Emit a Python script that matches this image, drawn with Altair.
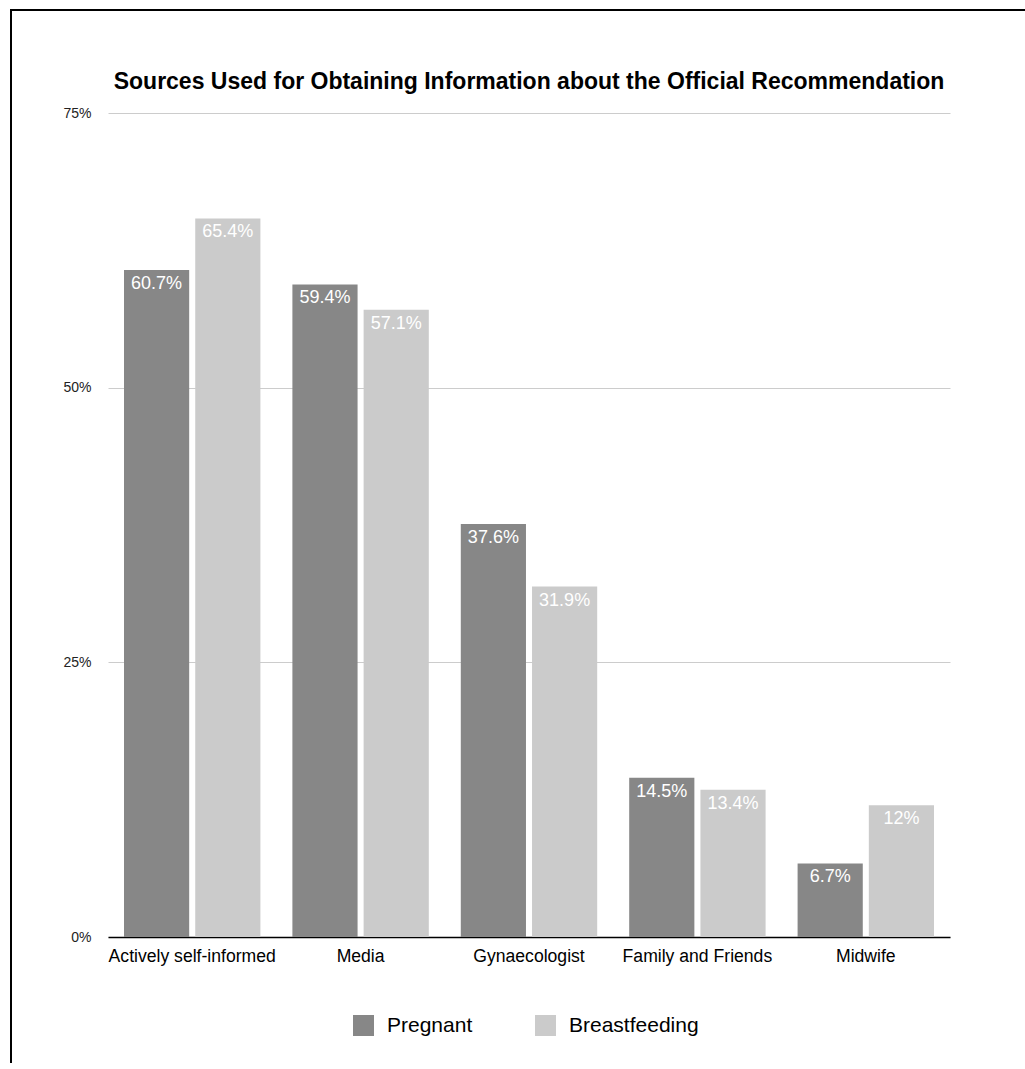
import altair as alt
import pandas as pd

categories = ["Actively self-informed", "Media", "Gynaecologist", "Family and Friends", "Midwife"]
groups = ["Pregnant", "Breastfeeding"]
pregnant = [60.7, 59.4, 37.6, 14.5, 6.7]
breastfeeding = [65.4, 57.1, 31.9, 13.4, 12.0]
colors = ["#878787", "#cbcbcb"]
y_ticks = [0, 25, 50, 75]
title_text = "Sources Used for Obtaining Information about the Official Recommendation"

rows = []
for c, p, b in zip(categories, pregnant, breastfeeding):
    rows.append({"source": c, "group": "Pregnant", "value": p})
    rows.append({"source": c, "group": "Breastfeeding", "value": b})
df = pd.DataFrame(rows)

FONT = "Liberation Sans"
W, H = 842, 824

base = alt.Chart(df).transform_calculate(
    label="format(datum.value, '.1~f') + '%'"
).encode(
    x=alt.X(
        "source:N",
        sort=categories,
        scale=alt.Scale(paddingInner=0.19, paddingOuter=0.095),
        axis=alt.Axis(
            title=None, labelAngle=0, labelFontSize=17.6, labelColor="#000",
            labelPadding=10, ticks=False, domainColor="#000", domainWidth=1.5,
            grid=False, labelFont=FONT,
        ),
    ),
    xOffset=alt.XOffset("group:N", sort=groups, scale=alt.Scale(paddingInner=0.085)),
    y=alt.Y(
        "value:Q",
        scale=alt.Scale(domain=[0, 75]),
        axis=alt.Axis(
            values=y_ticks, title=None, labelExpr="datum.value + '%'",
            labelFontSize=14, labelFont=FONT, labelColor="#222", labelPadding=17,
            ticks=False, domain=False, grid=True, gridColor="#cccccc", gridWidth=1,
        ),
    ),
)

bars = base.mark_bar().encode(
    color=alt.Color(
        "group:N",
        sort=groups,
        scale=alt.Scale(domain=groups, range=colors),
        legend=alt.Legend(
            title=None, orient="none", legendX=245, legendY=902,
            direction="horizontal", symbolType="square", symbolSize=441,
            symbolStrokeWidth=0, labelFontSize=21, labelFont=FONT,
            labelColor="#000", labelOffset=13, columnPadding=62, padding=0,
        ),
    )
)

labels = base.mark_text(
    color="white", baseline="alphabetic", dy=19, fontSize=18, font=FONT
).encode(text="label:N", detail="group:N")

frame_df = pd.DataFrame({"a": [0]})
title_mark = alt.Chart(frame_df).mark_text(
    text=title_text, fontSize=23, fontWeight="bold", font=FONT, color="#000",
    align="center", baseline="alphabetic",
).encode(x=alt.value(W / 2), y=alt.value(-24.5))

frame = alt.Chart(frame_df).mark_rect(
    fill="transparent", stroke="black", strokeWidth=2
).encode(
    x=alt.value(-97), y=alt.value(-103), x2=alt.value(W + 200), y2=alt.value(H + 200)
)

chart = alt.layer(bars, labels, title_mark, frame).properties(
    width=W,
    height=H,
    background="white",
    autosize=alt.AutoSizeParams(type="none"),
    padding={"left": 108, "top": 113, "right": 75, "bottom": 126},
).configure_view(strokeWidth=0, stroke="transparent")

chart.save("out.html", embed_options={"renderer": "svg", "actions": False})
